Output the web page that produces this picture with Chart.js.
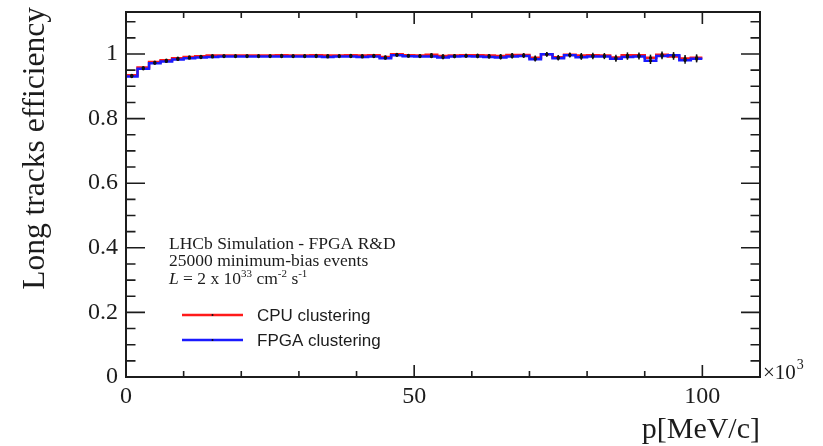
<!DOCTYPE html>
<html>
<head>
<meta charset="utf-8">
<script src="https://cdn.jsdelivr.net/npm/chart.js@4"></script>
<style>
  html, body { margin: 0; padding: 0; background: #ffffff; }
  #wrap { width: 823px; height: 446px; }
</style>
</head>
<body>
<div id="wrap"><canvas id="c" width="823" height="446"></canvas></div>
<script>
// Momentum bins, 2 GeV/c wide, given in units of 10^3 MeV/c
const binLowEdges = [0,2,4,6,8,10,12,14,16,18,20,22,24,26,28,30,32,34,36,38,
  40,42,44,46,48,50,52,54,56,58,60,62,64,66,68,70,72,74,76,78,
  80,82,84,86,88,90,92,94,96,98];
const binWidth = 2;

// Long-track reconstruction efficiency per bin
const cpuEff = [0.934,0.958,0.975,0.981,0.987,0.991,0.993,0.995,0.995,0.995,
  0.995,0.995,0.995,0.996,0.995,0.995,0.996,0.995,0.995,0.996,
  0.995,0.996,0.991,0.999,0.996,0.995,0.998,0.994,0.995,0.996,
  0.996,0.995,0.994,0.997,0.997,0.988,0.999,0.990,0.998,0.995,
  0.996,0.995,0.989,0.996,0.996,0.988,0.998,0.992,0.986,0.988];
const fpgaEff = [0.930,0.954,0.971,0.977,0.983,0.987,0.989,0.991,0.992,0.992,
  0.992,0.992,0.992,0.992,0.992,0.992,0.992,0.991,0.992,0.992,
  0.991,0.992,0.987,0.996,0.993,0.992,0.992,0.989,0.992,0.993,
  0.992,0.991,0.989,0.992,0.994,0.984,0.999,0.987,0.996,0.990,
  0.992,0.992,0.985,0.991,0.992,0.979,0.994,0.996,0.981,0.985];
// Statistical uncertainty per bin
const effErr = [0.003,0.002,0.002,0.002,0.002,0.002,0.002,0.002,0.002,0.002,
  0.002,0.002,0.002,0.002,0.002,0.003,0.003,0.003,0.003,0.003,
  0.003,0.003,0.004,0.004,0.004,0.004,0.004,0.005,0.005,0.005,
  0.005,0.005,0.006,0.006,0.006,0.007,0.007,0.007,0.007,0.008,
  0.008,0.008,0.009,0.009,0.009,0.010,0.010,0.010,0.011,0.011];

const xTicks = [0, 50, 100];
const yTicks = [0, 0.2, 0.4, 0.6, 0.8, 1];

const seriesNames = ['CPU clustering', 'FPGA clustering'];
const seriesColors = ['#ff1a1a', '#1a1aff'];

const SERIF = "'Liberation Serif', 'Times New Roman', serif";
const SANS = "'Liberation Sans', Arial, sans-serif";
const INK = '#1c1c1c';

// Step-histogram outline: one point per low edge plus the final upper edge
function histPoints(vals) {
  const pts = binLowEdges.map((x, i) => ({ x: x, y: vals[i] }));
  pts.push({ x: binLowEdges[binLowEdges.length - 1] + binWidth, y: vals[vals.length - 1] });
  return pts;
}

// Frame, inward ticks, error bars, markers, axis titles and text block
const decor = {
  id: 'decor',
  afterDatasetsDraw(chart) {
    const { ctx, chartArea: a, scales: { x, y } } = chart;
    ctx.save();

    // error bars and markers at bin centres
    const drawBars = (vals) => {
      ctx.strokeStyle = '#111';
      ctx.lineWidth = 1.5;
      binLowEdges.forEach((lo, i) => {
        const cx = x.getPixelForValue(lo + binWidth / 2);
        ctx.beginPath();
        ctx.moveTo(cx, y.getPixelForValue(vals[i] - effErr[i]));
        ctx.lineTo(cx, y.getPixelForValue(vals[i] + effErr[i]));
        ctx.stroke();
      });
      ctx.fillStyle = '#111';
      binLowEdges.forEach((lo, i) => {
        const cx = x.getPixelForValue(lo + binWidth / 2);
        ctx.beginPath();
        ctx.arc(cx, y.getPixelForValue(vals[i]), 1.6, 0, Math.PI * 2);
        ctx.fill();
      });
    };
    drawBars(cpuEff);
    drawBars(fpgaEff);

    // frame
    ctx.strokeStyle = INK;
    ctx.lineWidth = 2;
    ctx.strokeRect(a.left, a.top, a.right - a.left, a.bottom - a.top);

    // x ticks (bottom and top, pointing inwards)
    ctx.lineWidth = 1.6;
    for (let v = 0; v <= x.max + 1e-9; v += 10) {
      const px = x.getPixelForValue(v);
      const len = (v % 50 === 0) ? 12 : 6;
      ctx.beginPath();
      ctx.moveTo(px, a.bottom); ctx.lineTo(px, a.bottom - len);
      ctx.moveTo(px, a.top); ctx.lineTo(px, a.top + len);
      ctx.stroke();
    }
    // y ticks (left and right)
    for (let k = 0; k * 0.05 <= y.max + 1e-9; k++) {
      const v = k * 0.05;
      const py = y.getPixelForValue(v);
      const len = (k % 4 === 0) ? 19 : 9.5;
      ctx.beginPath();
      ctx.moveTo(a.left, py); ctx.lineTo(a.left + len, py);
      ctx.moveTo(a.right, py); ctx.lineTo(a.right - len, py);
      ctx.stroke();
    }

    ctx.fillStyle = INK;
    // x exponent
    ctx.font = '21px ' + SERIF;
    ctx.textAlign = 'left';
    ctx.textBaseline = 'alphabetic';
    ctx.fillText('\u00d710', a.right + 3, a.bottom + 2);
    const w10 = ctx.measureText('\u00d710').width;
    ctx.font = '14px ' + SERIF;
    ctx.fillText('3', a.right + 3 + w10 + 1, a.bottom - 8);

    // x title
    ctx.font = '30px ' + SERIF;
    ctx.textAlign = 'right';
    ctx.fillText('p[MeV/c]', a.right, 438);

    // y title
    ctx.save();
    ctx.translate(44, 7);
    ctx.rotate(-Math.PI / 2);
    ctx.font = '31.5px ' + SERIF;
    ctx.textAlign = 'right';
    ctx.fillText('Long tracks efficiency', 0, 0);
    ctx.restore();

    // text block
    ctx.textAlign = 'left';
    ctx.font = '17.5px ' + SERIF;
    ctx.fillText('LHCb Simulation - FPGA R&D', 169, 249);
    ctx.fillText('25000 minimum-bias events', 169, 266);
    let tx = 169;
    const put = (s, font, dy) => {
      ctx.font = font;
      ctx.fillText(s, tx, 284 + (dy || 0));
      tx += ctx.measureText(s).width;
    };
    put('L', 'italic 17.5px ' + SERIF);
    put(' = 2 x 10', '17.5px ' + SERIF);
    put('33', '11px ' + SERIF, -7);
    put(' cm', '17.5px ' + SERIF);
    put('-2', '11px ' + SERIF, -7);
    put(' s', '17.5px ' + SERIF);
    put('-1', '11px ' + SERIF, -7);

    // legend
    const legY = [315, 340];
    chart.data.datasets.forEach((ds, i) => {
      ctx.strokeStyle = ds.borderColor;
      ctx.lineWidth = 2.5;
      ctx.beginPath();
      ctx.moveTo(182, legY[i]); ctx.lineTo(243, legY[i]);
      ctx.stroke();
      ctx.fillStyle = '#111';
      ctx.beginPath();
      ctx.arc(212.5, legY[i], 1, 0, Math.PI * 2);
      ctx.fill();
      ctx.fillStyle = INK;
      ctx.font = '17px ' + SANS;
      ctx.textBaseline = 'middle';
      ctx.fillText(ds.label, 257, legY[i] + 1);
    });
    ctx.restore();
  }
};

new Chart(document.getElementById('c'), {
  type: 'line',
  data: {
    datasets: [
      { label: seriesNames[0], data: histPoints(cpuEff), borderColor: seriesColors[0],
        borderWidth: 2.5, stepped: true, pointRadius: 0, fill: false, order: 1 },
      { label: seriesNames[1], data: histPoints(fpgaEff), borderColor: seriesColors[1],
        borderWidth: 2.5, stepped: true, pointRadius: 0, fill: false, order: 0 }
    ]
  },
  options: {
    responsive: false,
    animation: false,
    layout: { padding: { top: 0, right: 63, left: 0, bottom: 0 } },
    plugins: { legend: { display: false }, tooltip: { enabled: false } },
    scales: {
      x: {
        type: 'linear', min: 0, max: 110,
        grid: { display: false, drawTicks: false },
        border: { display: false },
        afterBuildTicks: (s) => { s.ticks = xTicks.map(v => ({ value: v })); },
        afterFit: (s) => { s.height = 69; },
        ticks: { font: { family: SERIF, size: 24 }, color: INK, padding: 5,
                 maxRotation: 0, autoSkip: false, callback: (v) => String(v) }
      },
      y: {
        type: 'linear', min: 0, max: 1.13,
        grid: { display: false, drawTicks: false },
        border: { display: false },
        afterBuildTicks: (s) => { s.ticks = yTicks.map(v => ({ value: v })); },
        afterFit: (s) => { s.width = 126; s.paddingTop = 12; },
        ticks: { font: { family: SERIF, size: 24 }, color: INK, padding: 8,
                 autoSkip: false, callback: (v) => String(v) }
      }
    }
  },
  plugins: [decor]
});
</script>
</body>
</html>
